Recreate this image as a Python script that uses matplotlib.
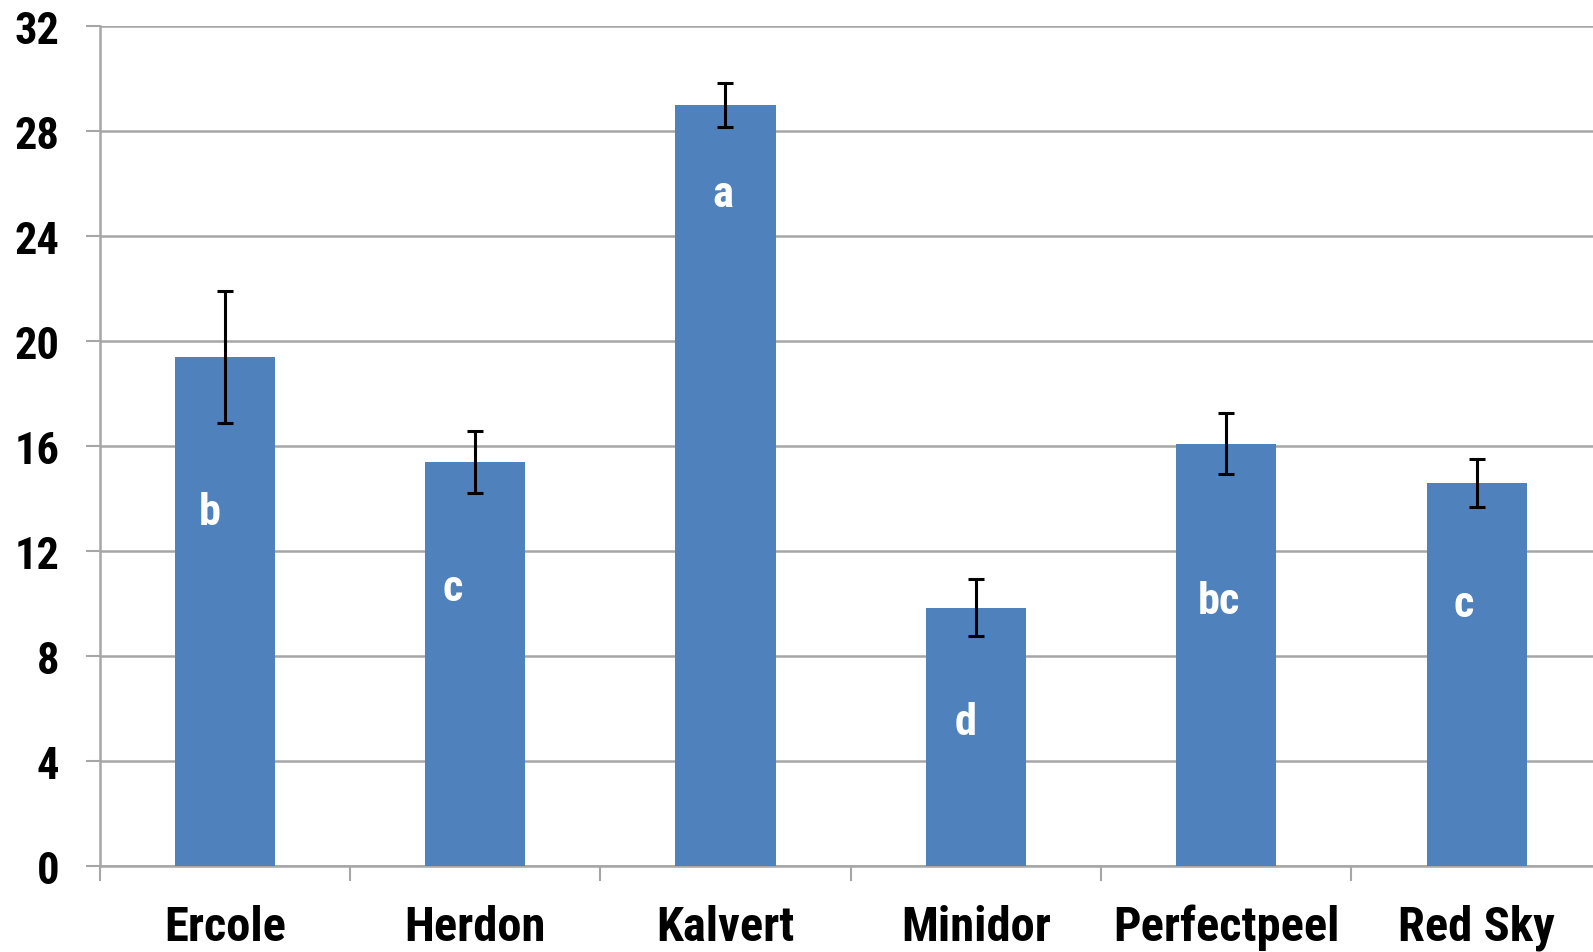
import matplotlib
matplotlib.use("Agg")
import matplotlib.pyplot as plt
from matplotlib import font_manager
import numpy as np

# Cultivar means with standard errors and significance letters
cultivars = ["Ercole", "Herdon", "Kalvert", "Minidor", "Perfectpeel", "Red Sky"]
means = [19.4, 15.4, 29.0, 9.85, 16.1, 14.6]
errors = [2.5, 1.2, 0.85, 1.1, 1.15, 0.9]
letters = ["b", "c", "a", "d", "bc", "c"]
letter_y = [13.5, 10.6, 25.6, 5.5, 10.1, 10.0]
letter_dx = [-0.06, -0.09, -0.01, -0.04, -0.03, -0.05]
yticks = [0, 4, 8, 12, 16, 20, 24, 28, 32]


def condensed_bold():
    """Bold condensed grotesque face, falling back to Liberation Sans Bold."""
    for f in font_manager.fontManager.ttflist:
        if f.fname.split("/")[-1].startswith("RobotoCondensed-Bold."):
            return font_manager.FontProperties(fname=f.fname)
    return font_manager.FontProperties(family="Liberation Sans", weight="bold")


fp = condensed_bold()
bar_color = "#4F81BD"
grid_color = "#A6A6A6"

fig = plt.figure(figsize=(15.93, 9.53), dpi=100)
ax = fig.add_axes([0.0625, 0.0902, 0.943, 0.881])

x = np.arange(len(cultivars))
ax.bar(x, means, width=0.4, color=bar_color, zorder=3)
ax.errorbar(x, means, yerr=errors, fmt="none", ecolor="black",
            elinewidth=2.2, capsize=6, capthick=2.2, zorder=4)

for xi, dx, ly, lt in zip(x, letter_dx, letter_y, letters):
    ax.text(xi + dx, ly, lt, ha="center", va="center", color="white",
            fontproperties=fp, fontsize=32, zorder=5)

ax.set_xlim(-0.5, len(cultivars) - 0.5)
ax.set_ylim(0, 32)
ax.set_yticks(yticks)
ax.set_yticklabels([str(t) for t in yticks], fontproperties=fp, fontsize=32)

# category labels centred, tick marks on category boundaries
ax.set_xticks(x)
ax.set_xticklabels(cultivars, fontproperties=fp, fontsize=35)
ax.tick_params(axis="x", which="major", length=0, pad=27)
ax.set_xticks(np.arange(-0.5, len(cultivars)), minor=True)
ax.tick_params(axis="x", which="minor", length=11, width=1.5,
               color=grid_color, direction="out")
ax.tick_params(axis="y", length=10, width=1.5, color=grid_color,
               direction="out", pad=19)

ax.yaxis.grid(True, color=grid_color, linewidth=1.8, zorder=0)
ax.set_axisbelow(True)
for side in ["top", "right"]:
    ax.spines[side].set_visible(False)
for side in ["left", "bottom"]:
    ax.spines[side].set_color(grid_color)
    ax.spines[side].set_linewidth(1.8)

fig.savefig("out.png", dpi=100)
